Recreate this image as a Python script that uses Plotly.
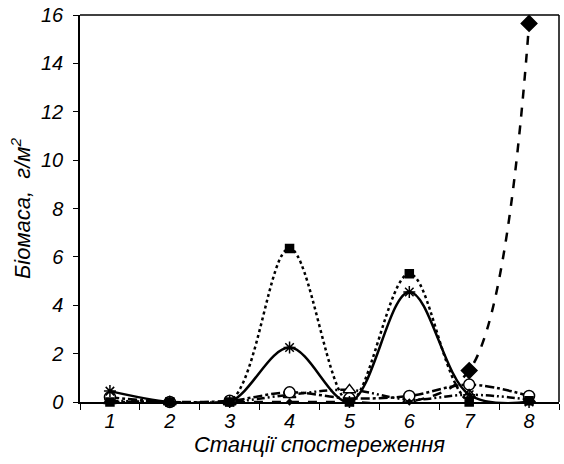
import plotly.graph_objects as go

stations = ["1", "2", "3", "4", "5", "6", "7", "8"]
s_asterisk = [0.45, 0.0, 0.0, 2.25, 0.0, 4.55, 0.3, 0.0]
s_square = [0.0, 0.0, 0.0, 6.35, 0.0, 5.3, 0.0, 0.05]
s_diamond = [0.0, 0.0, 0.0, 0.0, 0.0, 0.0, 1.3, 15.65]
s_circle = [0.2, 0.0, 0.05, 0.4, 0.15, 0.25, 0.72, 0.25]
s_triangle = [0.05, 0.0, 0.0, 0.3, 0.5, 0.1, 0.3, 0.1]
y_ticks = [0, 2, 4, 6, 8, 10, 12, 14, 16]

FAM = "Liberation Sans, Arial, sans-serif"
tickfnt = dict(family=FAM, size=20, color="black")
titlefnt = dict(family=FAM, size=22, color="black")

series = [
    (s_triangle, "triangle-up", "white", "8px,3px,2px,3px,2px,3px", 11),
    (s_circle, "circle", "white", "dashdot", 11),
    (s_diamond, "diamond", "black", "dash", 12),
    (s_square, "square", "black", "dot", 8),
    (s_asterisk, "asterisk-open", "black", "solid", 10),
]

fig = go.Figure()
for vals, sym, fill, dash, ms in series:
    sizes = [ms if (v > 0 or sym != "diamond") else 4 for v in vals]
    fig.add_trace(go.Scatter(
        x=stations, y=vals, mode="lines+markers",
        line=dict(color="black", width=2.5, dash=dash, shape="spline", smoothing=1.0),
        marker=dict(symbol=sym, size=sizes, color=fill, opacity=1,
                    line=dict(color="black", width=1.5)),
        showlegend=False, cliponaxis=False,
    ))

fig.update_layout(
    width=564, height=464,
    margin=dict(l=80, r=5, t=15, b=62, autoexpand=False),
    paper_bgcolor="white", plot_bgcolor="white",
    font=dict(family=FAM, size=20, color="black"),
    xaxis=dict(
        type="category", range=[-0.5, 7.5], automargin=False,
        tickmode="array", tickvals=stations,
        ticktext=["<i>%s</i>" % s for s in stations],
        showline=True, linecolor="black", linewidth=1.5,
        ticks="outside", ticklen=6, tickcolor="black", tickson="boundaries",
        showgrid=False, zeroline=False,
        tickfont=tickfnt,
        title=dict(text="<i>Станції спостереження</i>", font=titlefnt, standoff=4),
    ),
    yaxis=dict(
        range=[0, 16], automargin=False, tickmode="array", tickvals=y_ticks,
        ticktext=["<i>%d</i>" % t for t in y_ticks],
        showline=True, linecolor="black", linewidth=1.5,
        ticks="outside", ticklen=5, tickcolor="black", ticklabelstandoff=6,
        showgrid=False, zeroline=False,
        tickfont=tickfnt,
        title=dict(text="<i>Біомаса,  г/м<sup>2</sup></i>", font=titlefnt, standoff=4),
    ),
    shapes=[
        dict(type="line", xref="paper", yref="paper", x0=0, x1=1, y0=1, y1=1,
             line=dict(color="black", width=1.5)),
        dict(type="line", xref="paper", yref="paper", x0=1, x1=1, y0=0, y1=1,
             line=dict(color="black", width=1.5)),
    ],
)

fig.write_html("out.html", config={"displayModeBar": False},
               post_script="document.body.style.margin='0px';document.body.style.overflow='hidden';")
